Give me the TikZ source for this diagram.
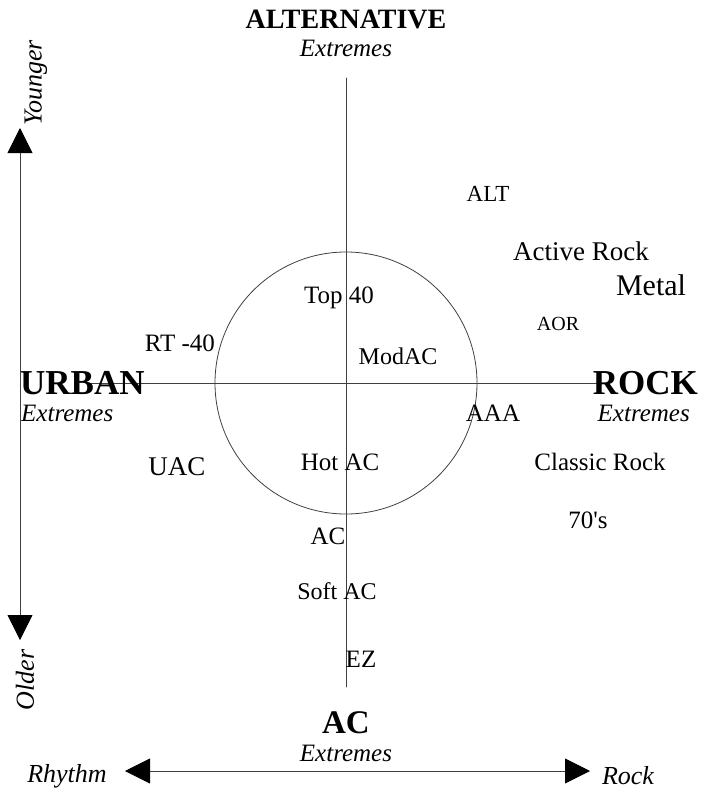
\documentclass[tikz,border=0pt]{standalone}
\usepackage{fontspec}
\setmainfont{Liberation Serif}
\newfontfamily\straightfont[Ligatures=TeXOff]{Liberation Serif}
\usetikzlibrary{arrows.meta}
\tikzset{
  lbl/.style={font=\fontsize{25}{30}\selectfont, inner sep=0pt},
  headlbl/.style={font=\fontsize{35}{40}\selectfont\bfseries, inner sep=0pt},
  extlbl/.style={font=\fontsize{25}{30}\selectfont\itshape, inner sep=0pt},
  sidelbl/.style={font=\fontsize{26}{30}\selectfont\itshape, inner sep=0pt},
  axisline/.style={color=black!75, line width=0.8pt},
}

\begin{document}
\begin{tikzpicture}[line cap=round,line join=round,>={Triangle[length=25pt,width=25pt,color=black,fill=black]},x=1pt,y=-1pt]
    \useasboundingbox (0,0) rectangle (703,790);
    % axes and circle
    \coordinate (north) at (346,78);
    \coordinate (south) at (346,687);
    \coordinate (west) at (90,383);
    \coordinate (east) at (600,383);
    \coordinate (mid) at (346,383);
    \draw[axisline] (north) -- (south);
    \draw[axisline] (west) -- (east);
    \draw[axisline] (mid) circle (131);
    % age and sound arrows
    \coordinate (young) at (20,128);
    \coordinate (old) at (20,640);
    \draw[<->,axisline] (young) -- (old);
    \coordinate (rhythm) at (125,771);
    \coordinate (rock) at (590,771);
    \draw[<->,axisline] (rhythm) -- (rock);
    \node[sidelbl,rotate=90] (younger) at (36,83) {Younger};
    \node[sidelbl,rotate=90] (older) at (25,680) {Older};
    \node[sidelbl] (rhythmlbl) at (67,776) {Rhythm};
    \node[sidelbl] (rocklbl) at (628,776) {Rock};
    % extremes
    \node[headlbl,font=\fontsize{28}{32}\selectfont\bfseries] (alternative) at (346,19) {ALTERNATIVE};
    \node[extlbl] (altext) at (346,48) {Extremes};
    \node[headlbl,anchor=west] (urban) at (20,383) {URBAN};
    \node[extlbl,anchor=west] (urbanext) at (21,413) {Extremes};
    \node[headlbl,anchor=east] (rockhead) at (698,383) {ROCK};
    \node[extlbl,anchor=east] (rockext) at (690,413) {Extremes};
    \node[headlbl,font=\fontsize{33}{38}\selectfont\bfseries] (achead) at (346,723) {AC};
    \node[extlbl] (acext) at (346,753) {Extremes};
    % formats
    \node[lbl,font=\fontsize{23}{28}\selectfont] (alt) at (488,194) {ALT};
    \node[lbl,font=\fontsize{27}{32}\selectfont] (activerock) at (581,251) {Active Rock};
    \node[lbl,font=\fontsize{30}{36}\selectfont] (metal) at (651,285) {Metal};
    \node[lbl,font=\fontsize{20}{24}\selectfont] (aor) at (558,324) {AOR};
    \node[lbl] (top40) at (339,298) {Top 40};
    \node[lbl] (rt40) at (180,343) {RT -40};
    \node[lbl,font=\fontsize{24}{28}\selectfont] (modac) at (398,356) {ModAC};
    \node[lbl] (aaa) at (493,413) {AAA};
    \node[lbl] (classicrock) at (600,462) {Classic Rock};
    \node[lbl] (hotac) at (340,462) {Hot AC};
    \node[lbl,font=\fontsize{27}{32}\selectfont] (uac) at (177,467) {UAC};
    \node[lbl] (seventies) at (588,520) {\straightfont 70's};
    \node[lbl] (ac) at (328,536) {AC};
    \node[lbl,font=\fontsize{24}{28}\selectfont] (softac) at (337,591) {Soft AC};
    \node[lbl] (ez) at (361,659) {EZ};
\end{tikzpicture}
\end{document}
